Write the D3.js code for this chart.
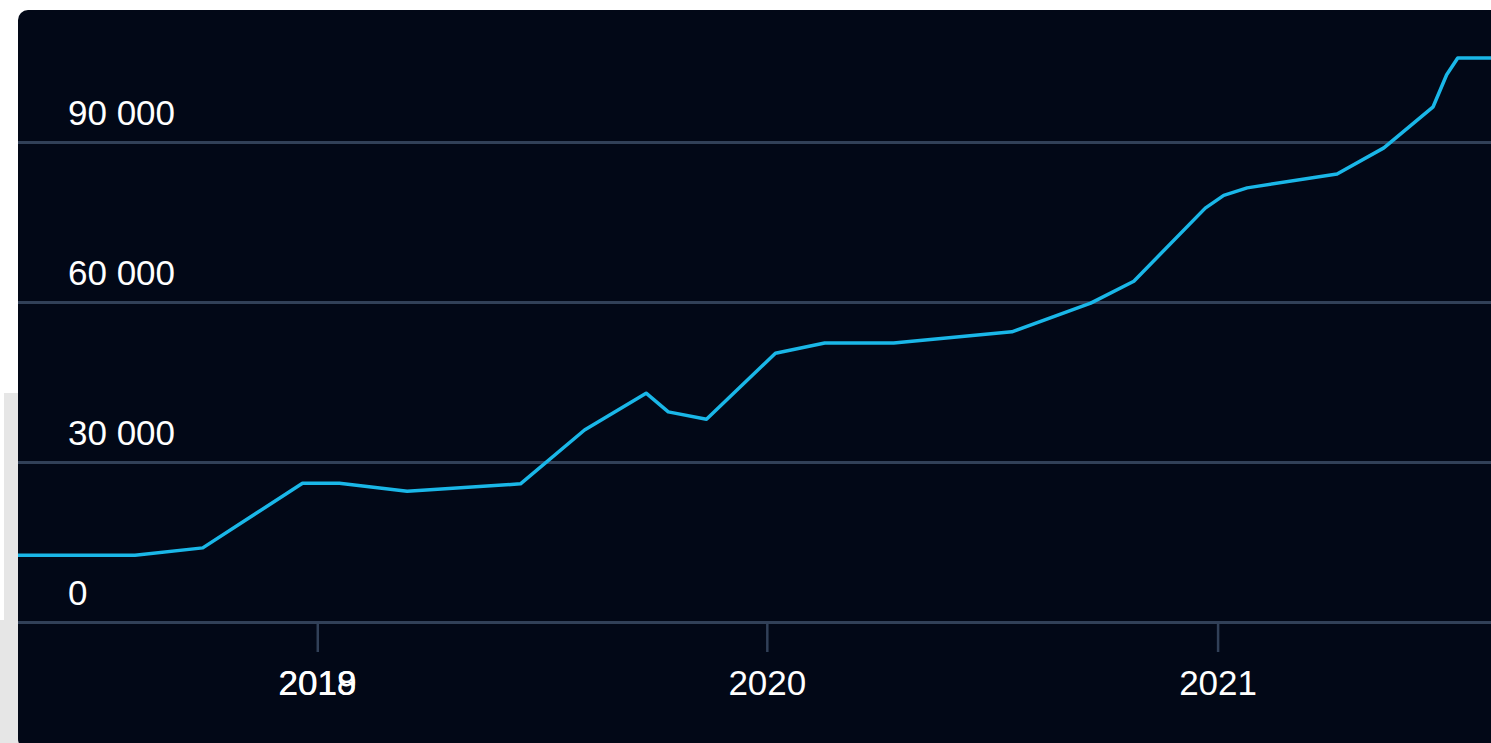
<!DOCTYPE html>
<html>
<head>
<meta charset="utf-8">
<script src="https://cdn.jsdelivr.net/npm/d3@7"></script>
<style>
  html, body { margin: 0; padding: 0; background: #ffffff; overflow: hidden; }
  svg { display: block; }
</style>
</head>
<body>
<svg id="chart" width="1491" height="743"></svg>
<script>
// ---- data ----
const dates = [
  "2018-05-03", "2018-08-06", "2018-09-30", "2018-12-20", "2019-01-19",
  "2019-03-15", "2019-06-15", "2019-08-06", "2019-09-25", "2019-10-13",
  "2019-11-13", "2020-01-08", "2020-02-17", "2020-04-13", "2020-07-18",
  "2020-09-20", "2020-10-25", "2020-12-22", "2021-01-06", "2021-01-25",
  "2021-04-08", "2021-05-16", "2021-06-25", "2021-07-06", "2021-07-15",
  "2021-08-11"
];
const values = [
  12500, 12500, 13900, 26000, 26000,
  24500, 25900, 36000, 42900, 39400,
  38000, 50400, 52300, 52300, 54400,
  59800, 63900, 77600, 80000, 81400,
  84000, 88900, 96600, 102600, 105750,
  105750
];
const yTicks = [0, 30000, 60000, 90000];
const xTickYears = ["2019", "2020", "2021"];
const ghostLabel = "2018"; // drawn overlapping the first year label

// ---- setup ----
const parse = d3.timeParse("%Y-%m-%d");
const data = dates.map((d, i) => ({ date: parse(d), value: values[i] }));

const svg = d3.select("#chart");
const W = 1491, H = 743;
const padLeft = 18, padTop = 10, baseY = 622;

// light gray side strip behind the panel
svg.append("rect").attr("x", 4).attr("y", 393).attr("width", 20).attr("height", H - 393).attr("fill", "#e6e6e6");
svg.append("rect").attr("x", 0).attr("y", 620).attr("width", 20).attr("height", H - 620).attr("fill", "#e6e6e6");

// dark panel
svg.append("rect")
  .attr("x", padLeft).attr("y", padTop)
  .attr("width", W - padLeft + 20).attr("height", H - padTop + 6)
  .attr("rx", 10).attr("ry", 10)
  .attr("fill", "#020817");

const x = d3.scaleTime()
  .domain([parse("2018-05-03"), parse("2021-08-11")])
  .range([padLeft, W]);

const y = d3.scaleLinear()
  .domain([0, 90000])
  .range([baseY, 142]);

const locale = d3.formatLocale({ decimal: ".", thousands: " ", grouping: [3], currency: ["", ""] });
const fmt = locale.format(",d");

const gridColor = "#314058";
const font = "'Liberation Sans', Arial, Helvetica, sans-serif";

// y axis / gridlines
const yAxis = d3.axisRight(y).tickValues(yTicks).tickSize(W - padLeft).tickFormat(fmt);
const gy = svg.append("g").attr("transform", `translate(${padLeft},0)`).call(yAxis);
gy.select(".domain").remove();
gy.selectAll(".tick line").attr("stroke", gridColor).attr("stroke-width", 3);
gy.selectAll(".tick text")
  .attr("x", 50).attr("dy", -18)
  .attr("text-anchor", "start")
  .attr("fill", "#ffffff")
  .style("font-family", font).style("font-size", "35px");

// x axis
const yearTicks = xTickYears.map(s => parse(s + "-01-01"));
const xAxis = d3.axisBottom(x).tickValues(yearTicks).tickSize(30).tickFormat(d3.timeFormat("%Y"));
const gx = svg.append("g").attr("transform", `translate(0,${baseY})`).call(xAxis);
gx.select(".domain").remove();
gx.selectAll(".tick line").attr("stroke", gridColor).attr("stroke-width", 2.5);
gx.selectAll(".tick text")
  .attr("y", 73).attr("dy", 0)
  .attr("fill", "#ffffff")
  .style("font-family", font).style("font-size", "35px");

// ghost overlapping label
gx.append("text")
  .attr("x", x(yearTicks[0])).attr("y", 73)
  .attr("text-anchor", "middle")
  .attr("fill", "#ffffff")
  .style("font-family", font).style("font-size", "35px")
  .text(ghostLabel);

// line
const line = d3.line()
  .x(d => x(d.date))
  .y(d => y(d.value));

svg.append("path")
  .datum(data)
  .attr("fill", "none")
  .attr("stroke", "#1ab7e8")
  .attr("stroke-width", 3.5)
  .attr("stroke-linejoin", "round")
  .attr("d", line);
</script>
</body>
</html>
